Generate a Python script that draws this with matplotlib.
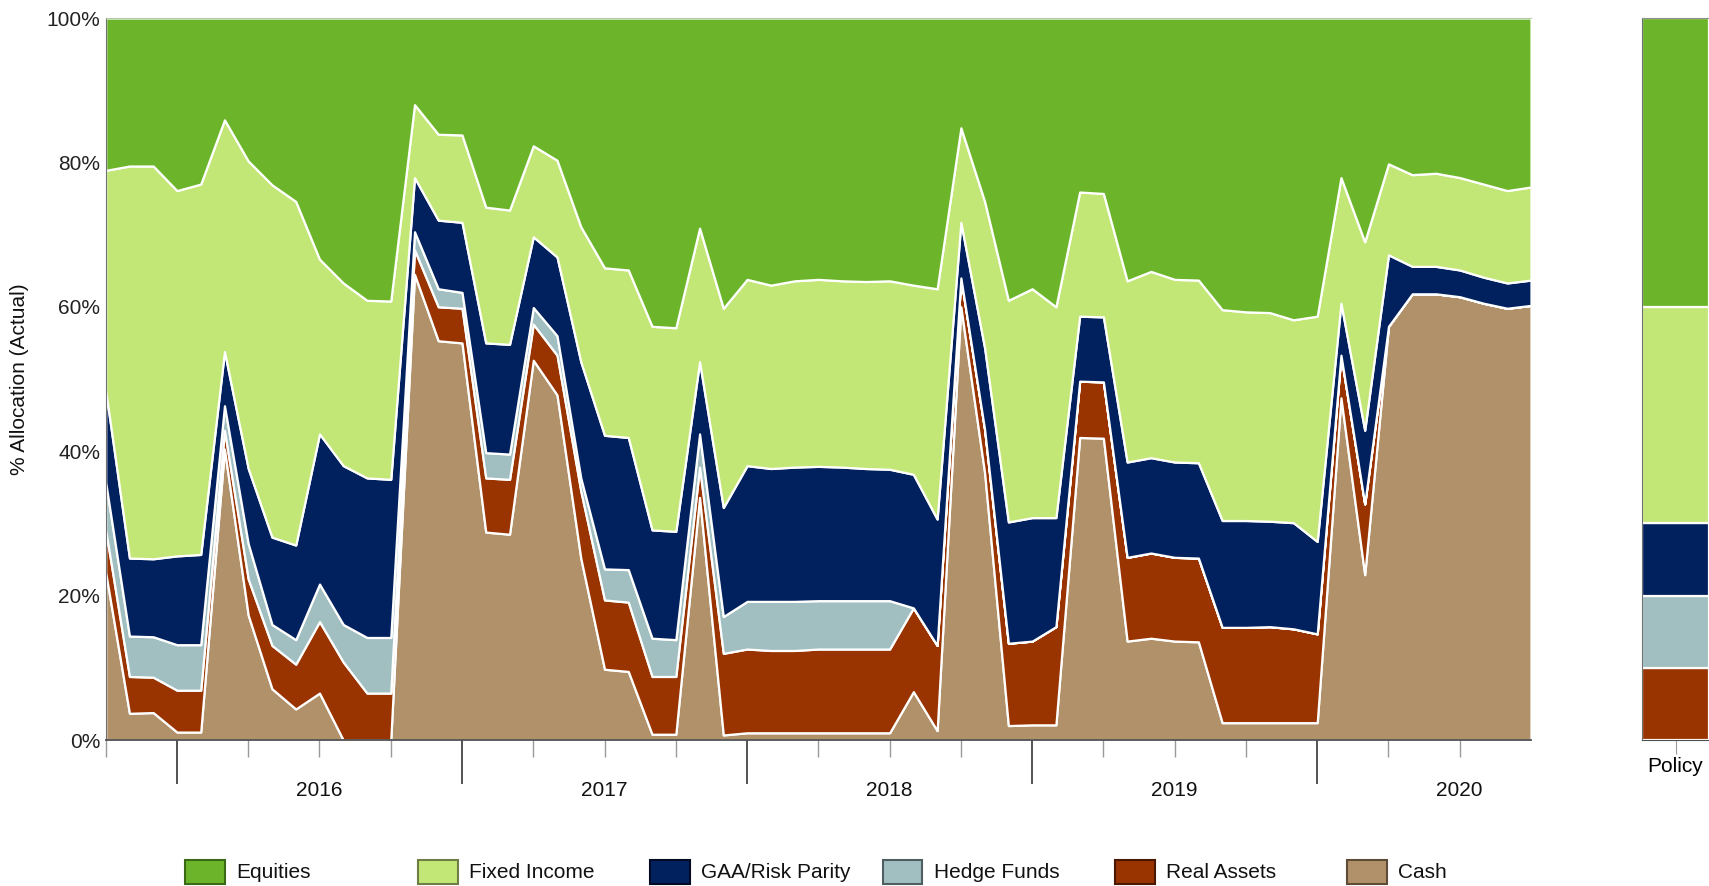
import numpy as np
import matplotlib
matplotlib.use("Agg")
import matplotlib.pyplot as plt
from matplotlib import font_manager
from matplotlib.patches import Rectangle
from matplotlib.transforms import blended_transform_factory

names = {f.name for f in font_manager.fontManager.ttflist}
FONT = 'Liberation Sans Narrow' if 'Liberation Sans Narrow' in names else 'Liberation Sans'
plt.rcParams['font.family'] = [FONT, 'DejaVu Sans']

# Monthly observations, Oct-2015 .. Oct-2020 (61 points), % allocation
equities = [21.1, 20.5, 20.5, 23.9, 23.0, 14.1, 19.8, 23.1, 25.4, 33.4, 36.7, 39.1, 39.2,
            12.0, 16.1, 16.2, 26.2, 26.6, 17.7, 19.7, 28.9, 34.6, 34.9, 42.7, 42.9,
            29.1, 40.2, 36.2, 37.0, 36.4, 36.2, 36.4, 36.5, 36.4, 37.0, 37.5, 15.2,
            25.4, 39.1, 37.5, 40.0, 24.1, 24.3, 36.4, 35.1, 36.2, 36.3, 40.4, 40.7,
            40.8, 41.8, 41.3, 22.1, 31.0, 20.2, 21.7, 21.5, 22.1, 23.0, 23.9, 23.4]
fixed_income = [30.5, 54.3, 54.4, 50.6, 51.3, 32.1, 42.6, 48.8, 47.6, 24.2, 25.3, 24.6, 24.7,
                10.1, 11.9, 12.1, 18.8, 18.6, 12.6, 13.4, 18.7, 23.2, 23.2, 28.2, 28.2,
                18.5, 27.6, 25.8, 25.4, 25.8, 25.9, 25.8, 25.9, 26.1, 26.2, 31.9, 13.1,
                20.3, 30.7, 31.7, 29.2, 17.2, 17.1, 25.1, 25.8, 25.3, 25.3, 29.2, 28.9,
                28.9, 28.1, 31.2, 17.4, 26.1, 12.6, 12.7, 12.9, 12.8, 12.9, 12.8, 12.9]
gaa_risk_parity = [12.7, 10.8, 10.8, 12.3, 12.5, 7.5, 10.4, 12.1, 13.1, 20.8, 22.0, 22.1, 21.9,
                   7.5, 9.5, 9.7, 15.2, 15.2, 9.8, 10.9, 16.1, 18.5, 18.3, 15.0, 15.0,
                   10.0, 15.1, 18.8, 18.4, 18.6, 18.6, 18.5, 18.3, 18.2, 18.5, 17.5, 7.7,
                   11.3, 16.8, 17.1, 15.1, 9.0, 9.0, 13.2, 13.2, 13.2, 13.2, 14.8, 14.8,
                   14.6, 14.7, 12.8, 7.2, 10.2, 9.9, 3.8, 3.8, 3.7, 3.6, 3.5, 3.5]
hedge_funds = [6.6, 5.6, 5.6, 6.3, 6.3, 3.4, 4.9, 2.9, 3.4, 5.2, 5.2, 7.7, 7.7,
               2.5, 2.5, 2.2, 3.5, 3.5, 2.3, 2.7, 1.8, 4.3, 4.5, 5.3, 5.1,
               4.6, 5.1, 6.6, 6.8, 6.8, 6.7, 6.7, 6.7, 6.7, 0.0, 0.0, 0.0,
               0.0, 0.0, 0.0, 0.0, 0.0, 0.0, 0.0, 0.0, 0.0, 0.0, 0.0, 0.0,
               0.0, 0.0, 0.0, 0.0, 0.0, 0.0, 0.0, 0.0, 0.0, 0.0, 0.0, 0.0]
real_assets = [5.9, 5.1, 4.9, 5.8, 5.8, 2.6, 5.0, 6.0, 6.2, 9.9, 10.8, 6.5, 6.5,
               3.4, 4.7, 4.8, 7.5, 7.6, 5.0, 5.5, 9.3, 9.6, 9.6, 8.0, 8.0,
               4.2, 11.3, 11.6, 11.4, 11.4, 11.6, 11.6, 11.6, 11.6, 11.6, 11.8, 4.0,
               6.0, 11.4, 11.6, 13.6, 7.8, 7.8, 11.6, 11.8, 11.6, 11.6, 13.2, 13.2,
               13.3, 13.0, 12.3, 5.9, 9.8, 0.0, 0.0, 0.0, 0.0, 0.0, 0.0, 0.0]
cash = [23.2, 3.7, 3.8, 1.1, 1.1, 40.3, 17.3, 7.1, 4.3, 6.5, 0.0, 0.0, 0.0,
        64.5, 55.3, 55.0, 28.8, 28.5, 52.6, 47.8, 25.2, 9.8, 9.5, 0.8, 0.8,
        33.6, 0.7, 1.0, 1.0, 1.0, 1.0, 1.0, 1.0, 1.0, 6.7, 1.3, 60.0,
        37.0, 2.0, 2.1, 2.1, 41.9, 41.8, 13.7, 14.1, 13.7, 13.6, 2.4, 2.4,
        2.4, 2.4, 2.4, 47.4, 22.9, 57.3, 61.8, 61.8, 61.4, 60.5, 59.8, 60.2]

policy = {"Equities": 40, "Fixed Income": 30, "GAA/Risk Parity": 10,
          "Hedge Funds": 10, "Real Assets": 10, "Cash": 0}

series_names = ["Equities", "Fixed Income", "GAA/Risk Parity", "Hedge Funds", "Real Assets", "Cash"]
colors = {"Equities": "#6CB52A", "Fixed Income": "#C2E776", "GAA/Risk Parity": "#00215E",
          "Hedge Funds": "#A1BEC1", "Real Assets": "#993300", "Cash": "#B1916A"}
edge_colors = {"Equities": "#3B6A16", "Fixed Income": "#6E7E45", "GAA/Risk Parity": "#000A24",
               "Hedge Funds": "#4F5E60", "Real Assets": "#4A1800", "Cash": "#5E4C36"}

year_labels = ["2016", "2017", "2018", "2019", "2020"]
year_start_idx = [3, 15, 27, 39, 51]
year_mid_idx = [9, 21, 33, 45, 57]

W, H = 1709, 886
fig = plt.figure(figsize=(W / 100, H / 100), dpi=100)

L, R, T, B = 105.7, 1531, 18, 740
ax = fig.add_axes([L / W, 1 - B / H, (R - L) / W, (B - T) / H])

x = np.arange(len(cash))
data_bottom_up = [cash, real_assets, hedge_funds, gaa_risk_parity, fixed_income, equities]
names_bottom_up = ["Cash", "Real Assets", "Hedge Funds", "GAA/Risk Parity", "Fixed Income", "Equities"]
ax.stackplot(x, *data_bottom_up, colors=[colors[n] for n in names_bottom_up],
             edgecolor="white", linewidth=1.6)

ax.set_xlim(0, 60)
ax.set_ylim(0, 100)
ax.set_yticks([0, 20, 40, 60, 80, 100])
ax.set_yticklabels(["0%", "20%", "40%", "60%", "80%", "100%"])
ax.tick_params(axis="y", length=0, pad=4, labelsize=15, labelcolor="#222222")

minor = [i for i in range(0, 60, 3) if i not in year_start_idx]
ax.set_xticks(year_start_idx)
ax.set_xticklabels([])
ax.set_xticks(minor, minor=True)
ax.tick_params(axis="x", which="major", length=32, width=1.3, color="#444444", direction="out")
ax.tick_params(axis="x", which="minor", length=12, width=1.0, color="#999999", direction="out")

trans = blended_transform_factory(ax.transData, ax.transAxes)
for lab, xi in zip(year_labels, year_mid_idx):
    ax.text(xi, -50 / (B - T), lab, transform=trans, ha="center", va="center",
            fontsize=15, color="#111111")

ax.spines["right"].set_visible(False)
ax.spines["top"].set_color("#B5C8A5")
ax.spines["left"].set_color("#707070")
ax.spines["bottom"].set_color("#505050")
ax.spines["bottom"].set_linewidth(1.3)
ax.set_zorder(2)

fig.text(20 / W, 1 - 379 / H, "% Allocation (Actual)", rotation=90, ha="center", va="center",
         fontsize=15, color="#111111")

# Policy panel
PL = 1642
pax = fig.add_axes([PL / W, 1 - B / H, (W - PL) / W, (B - T) / H])
bottom = 0
for n in names_bottom_up:
    v = policy[n]
    if v > 0:
        pax.bar([0], [v], bottom=bottom, width=1.0, color=colors[n],
                edgecolor="white", linewidth=1.6)
    bottom += v
pax.set_xlim(-0.5, 0.5)
pax.set_ylim(0, 100)
pax.set_yticks([])
pax.set_xticks([0])
pax.set_xticklabels(["Policy"])
pax.tick_params(axis="x", length=10, color="#999999", labelsize=15, pad=2)
pax.spines["right"].set_visible(False)
pax.spines["left"].set_color("#707070")
pax.spines["top"].set_color("#909090")
pax.spines["bottom"].set_color("#505050")

# Legend (manual, evenly spaced)
box_w, box_h = 40, 24
leg_y = 872
for i, n in enumerate(series_names):
    bx = 185.3 + 232.4 * i
    fig.patches.append(Rectangle((bx / W, 1 - (leg_y + box_h / 2) / H), box_w / W, box_h / H,
                                 transform=fig.transFigure, facecolor=colors[n],
                                 edgecolor=edge_colors[n], linewidth=1.5))
    fig.text((bx + box_w + 11) / W, 1 - leg_y / H, n, ha="left", va="center",
             fontsize=15, color="#111111")

fig.savefig("out.png", dpi=100)
